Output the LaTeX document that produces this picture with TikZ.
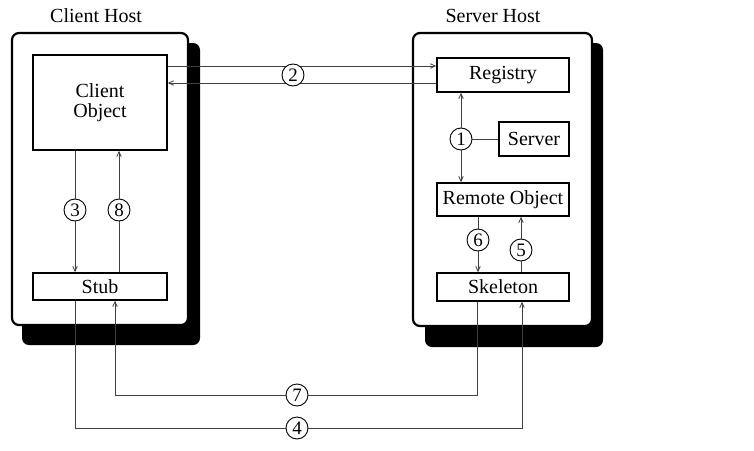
\documentclass[tikz,border=0pt]{standalone}
\usepackage{fontspec}
\setmainfont{Liberation Serif}
\usetikzlibrary{arrows.meta}
\pgfdeclarelayer{bg}
\pgfdeclarelayer{mid}
\pgfsetlayers{bg,mid,main}
\begin{document}
\begin{tikzpicture}[x=1pt,y=-1pt,
  host/.style={draw, line width=2.2pt, rounded corners=7pt, fill=white, inner sep=0},
  shadowbox/.style={fill=black, rounded corners=7pt, inner sep=0},
  comp/.style={draw, line width=1.5pt, fill=white, inner sep=0, font=\fontsize{20}{22}\selectfont, align=center},
  num/.style={draw, circle, line width=0.9pt, fill=white, minimum size=22pt, inner sep=0, font=\fontsize{19}{20}\selectfont},
  conn/.style={line width=0.8pt, draw=black!75},
  arr/.style={conn, -{Straight Barb[length=5pt,width=4.5pt]}},
  lbl/.style={font=\fontsize{20}{22}\selectfont}
]
\useasboundingbox (0,0) rectangle (754,450);

% hosts
\begin{pgfonlayer}{bg}
\node[shadowbox, minimum width=178pt, minimum height=302pt] (cshadow) at (111,194) {};
\node[host, minimum width=176pt, minimum height=292pt] (chost) at (100,179) {};
\node[shadowbox, minimum width=178pt, minimum height=304pt] (sshadow) at (514,195) {};
\node[host, minimum width=179pt, minimum height=293pt] (shost) at (502.5,179.5) {};
\end{pgfonlayer}
\node[lbl] (clbl) at (96,16) {Client Host};
\node[lbl] (slbl) at (493,16) {Server Host};

% components
\node[comp, minimum width=134pt, minimum height=95pt] (cobj) at (100,102.5) {Client\\[-2pt]Object};
\node[comp, minimum width=134pt, minimum height=27pt] (stub) at (100,286.5) {Stub};
\node[comp, minimum width=132pt, minimum height=34pt] (registry) at (503,75) {Registry};
\node[comp, minimum width=70pt, minimum height=34pt] (server) at (534,139) {Server};
\node[comp, minimum width=132pt, minimum height=33pt] (remote) at (503,199.5) {Remote Object};
\node[comp, minimum width=132pt, minimum height=28pt] (skeleton) at (503,287) {Skeleton};

% numbered markers
\node[num] (n1) at (461,139) {1};
\node[num] (n2) at (293,75) {2};
\node[num] (n3) at (75,210) {3};
\node[num] (n8) at (119,210) {8};
\node[num] (n6) at (478,240) {6};
\node[num] (n5) at (521,250) {5};
\node[num] (n7) at (297,395) {7};
\node[num] (n4) at (297,428) {4};

% helper coordinates
\coordinate (c2a) at ([yshift=9pt]registry.west);
\coordinate (c2b) at ([yshift=-8pt]registry.west);
\coordinate (c7r) at (477,395);
\coordinate (c7l) at (115,395);
\coordinate (c4l) at (75,428);
\coordinate (c4r) at (522,428);

% 2
\begin{pgfonlayer}{mid}
\draw[arr] (cobj.east |- c2a) -- (c2a);
\draw[arr] (c2b) -- (cobj.east |- c2b);
\end{pgfonlayer}
% 1
\draw[arr] (n1.north) -- (registry.south -| n1);
\draw[arr] (n1.south) -- (remote.north -| n1);
\draw[conn] (n1.east) -- (server.west);
% 3 and 8
\draw[conn] (cobj.south -| n3) -- (n3.north);
\draw[arr] (n3.south) -- (stub.north -| n3);
\draw[conn] (stub.north -| n8) -- (n8.south);
\draw[arr] (n8.north) -- (cobj.south -| n8);
% 6 and 5
\draw[conn] (remote.south -| n6) -- (n6.north);
\draw[arr] (n6.south) -- (skeleton.north -| n6);
\draw[conn] (skeleton.north -| n5) -- (n5.south);
\draw[arr] (n5.north) -- (remote.south -| n5);
% 7
\draw[conn] (skeleton.south -| c7r) -- (c7r) -- (n7.east);
\draw[arr] (n7.west) -- (c7l) -- (stub.south -| c7l);
% 4
\draw[conn] (stub.south -| c4l) -- (c4l) -- (n4.west);
\draw[arr] (n4.east) -- (c4r) -- (skeleton.south -| c4r);
\end{tikzpicture}
\end{document}
